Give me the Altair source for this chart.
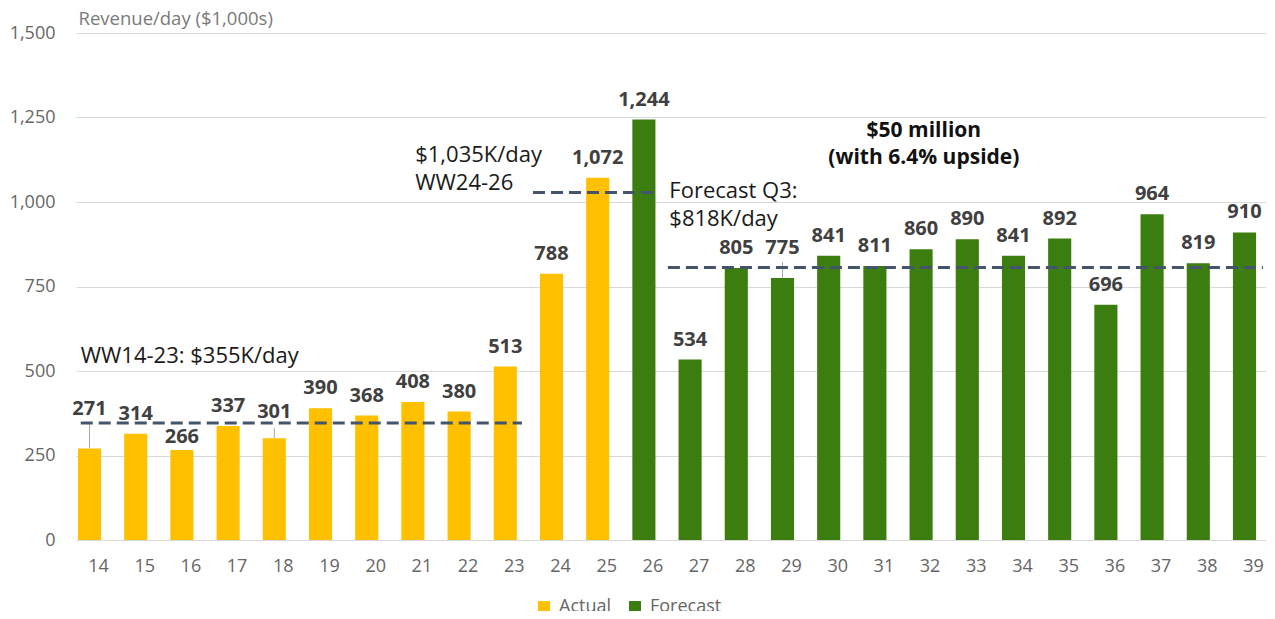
import altair as alt
import pandas as pd

# ---------------- data ----------------
weeks = list(range(14, 40))
revenue = [271, 314, 266, 337, 301, 390, 368, 408, 380, 513, 788, 1072, 1244,
           534, 805, 775, 841, 811, 860, 890, 841, 892, 696, 964, 819, 910]
series = ["Actual"] * 12 + ["Forecast"] * 14

series_names = ["Actual", "Forecast"]
series_colors = ["#FFC000", "#3B7D0F"]

y_ticks = [0, 250, 500, 750, 1000, 1250, 1500]

# average reference lines (x in week units, y in $1,000s/day)
ref_x1 = [13.81, 23.6, 26.52]
ref_x2 = [23.36, 26.28, 39.4]
ref_y = [346, 1028, 806]

# annotation texts
note_x = [13.81, 21.05, 26.55]
note_y = [524, 1119, 1011]
note_text = [["WW14-23: $355K/day"], ["$1,035K/day", "WW24-26"], ["Forecast Q3:", "$818K/day"]]
bold_x = [32.06]
bold_y = [1193]
bold_text = [["$50 million", "(with 6.4% upside)"]]

# data-label nudges (pixels) and leader lines (pixels)
label_dy_default = -14
label_dy_special = {14: -33, 16: -7, 18: -20, 29: -24}
leader_len = {14: 24, 18: 10, 29: 16}

# ---------------- geometry of the band scale ----------------
W, H = 1190, 507
P_IN, P_OUT, ALIGN = 0.5, 0.129, 0.164
n = len(weeks)
step = W / (n - P_IN + 2 * P_OUT)
start = (W - step * (n - P_IN)) * ALIGN
first_center = start + step * (1 - P_IN) / 2
X_LO = weeks[0] - first_center / step
X_HI = weeks[0] + (W - first_center) / step

df = pd.DataFrame({"week": weeks, "revenue": revenue, "series": series})
ref_df = pd.DataFrame({"x1": ref_x1, "x2": ref_x2, "revenue": ref_y})
note_df = pd.DataFrame({"xw": note_x, "revenue": note_y, "txt": note_text})
bold_df = pd.DataFrame({"xw": bold_x, "revenue": bold_y, "txt": bold_text})

FONT = "Open Sans"
AX_COLOR = "#666666"

X = alt.X(
    "week:O",
    scale=alt.Scale(domain=weeks, paddingInner=P_IN, paddingOuter=P_OUT, align=ALIGN),
    axis=alt.Axis(labelAngle=0, labelOffset=9, labelPadding=17, ticks=False, domainColor="#D9D9D9",
                  labelFont=FONT, labelFontSize=18, labelColor=AX_COLOR, grid=False),
    title=None,
)
Y = alt.Y(
    "revenue:Q",
    scale=alt.Scale(domain=[0, 1500], nice=False),
    axis=alt.Axis(values=y_ticks, format=",.0f", ticks=False, domain=False, labelPadding=21,
                  labelFont=FONT, labelFontSize=18, labelColor=AX_COLOR,
                  gridColor="#D9D9D9", gridWidth=1,
                  titleAngle=0, titleAlign="left", titleBaseline="alphabetic",
                  titleX=2, titleY=-9, titleFont=FONT, titleFontSize=18.5,
                  titleFontWeight="normal", titleColor="#7A7A7A"),
    title="Revenue/day ($1,000s)",
)

bars = alt.Chart(df).mark_bar().encode(
    x=X, y=Y,
    color=alt.Color(
        "series:N",
        scale=alt.Scale(domain=series_names, range=series_colors),
        legend=alt.Legend(title=None, orient="none", legendX=459, legendY=565,
                          direction="horizontal", symbolType="square", symbolSize=144,
                          symbolStrokeWidth=0, labelFont=FONT, labelFontSize=18,
                          labelColor=AX_COLOR, labelOffset=6, columnPadding=14),
    ),
)

label_style = dict(font=FONT, fontWeight="bold", fontSize=20, color="#404040", baseline="alphabetic")
special = list(label_dy_special.keys())
label_layers = [
    alt.Chart(df).transform_filter(
        "indexof([%s], datum.week) < 0" % ",".join(str(k) for k in special)
    ).mark_text(dy=label_dy_default, **label_style).encode(
        x=X, y=Y, text=alt.Text("revenue:Q", format=","))
]
for wk, dy in label_dy_special.items():
    label_layers.append(
        alt.Chart(df).transform_filter(alt.datum.week == wk)
        .mark_text(dy=dy, **label_style)
        .encode(x=X, y=Y, text=alt.Text("revenue:Q", format=","))
    )

leader_layers = []
for wk, ln in leader_len.items():
    leader_layers.append(
        alt.Chart(df).transform_filter(alt.datum.week == wk)
        .mark_rule(color="#A6A6A6", strokeWidth=1, y2Offset=-ln)
        .encode(x=X, y=Y, y2=alt.Y2("revenue:Q"))
    )

band_layer = alt.layer(bars, *leader_layers, *label_layers)

XL = alt.Scale(domain=[X_LO, X_HI], nice=False, zero=False)

rules = alt.Chart(ref_df).mark_rule(strokeDash=[12, 6], strokeWidth=3, color="#44546A").encode(
    x=alt.X("x1:Q", scale=XL, axis=None), x2="x2:Q", y=Y)

notes = alt.Chart(note_df).mark_text(
    align="left", baseline="alphabetic", font=FONT, fontSize=22, color="#1A1A1A", lineHeight=28
).encode(x=alt.X("xw:Q", scale=XL, axis=None), y=Y, text="txt")

bold_notes = alt.Chart(bold_df).mark_text(
    align="center", baseline="alphabetic", font=FONT, fontSize=21, fontWeight="bold",
    color="#111111", lineHeight=27
).encode(x=alt.X("xw:Q", scale=XL, axis=None), y=Y, text="txt")

lin_layer = alt.layer(rules, notes, bold_notes)

chart = alt.layer(band_layer, lin_layer).resolve_scale(x="independent").properties(
    width=W, height=H,
    autosize=alt.AutoSizeParams(type="none"),
    padding={"left": 68, "top": 25, "right": 0, "bottom": 71},
    background="white",
).configure_view(stroke=None)

chart.save("out.html", embed_options={"renderer": "svg", "actions": False})
